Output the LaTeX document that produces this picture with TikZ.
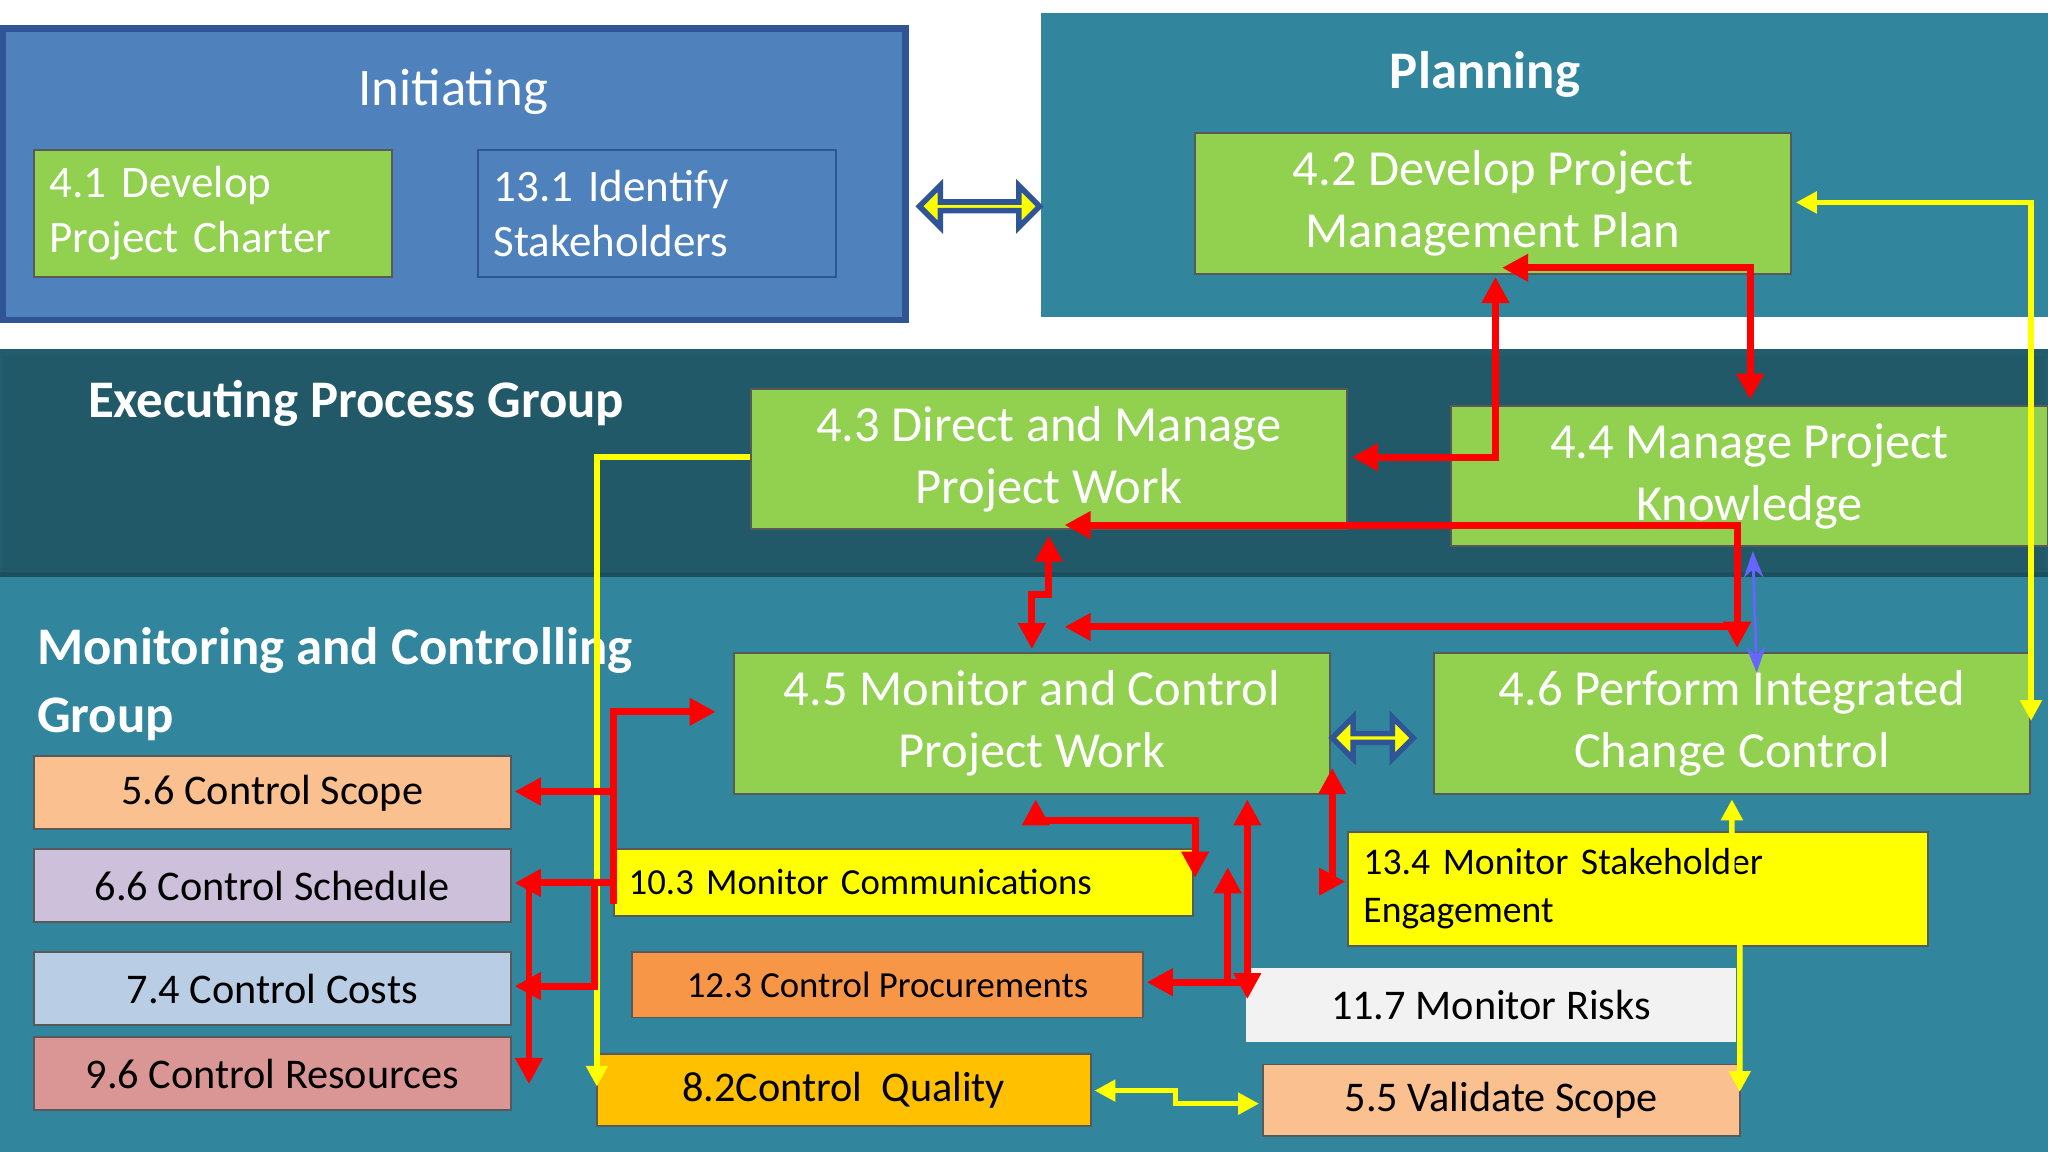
\documentclass[tikz,border=0pt]{standalone}
\usepackage{fontspec}
\setmainfont{Carlito}
\usetikzlibrary{arrows.meta,shapes.arrows}
\definecolor{initblue}{HTML}{4F81BD}
\definecolor{initborder}{HTML}{2F5597}
\definecolor{teal}{HTML}{31859C}
\definecolor{dteal}{HTML}{215968}
\definecolor{pgreen}{HTML}{92D050}
\definecolor{peach}{HTML}{FAC090}
\definecolor{lilac}{HTML}{CCC0DA}
\definecolor{lblue}{HTML}{B9CDE5}
\definecolor{rose}{HTML}{DA9694}
\definecolor{orng}{HTML}{F79646}
\definecolor{gold}{HTML}{FFC000}
\definecolor{yel}{HTML}{FFFF00}
\tikzset{
  box/.style={draw=gray!70!black, line width=0.4pt, inner sep=0pt, align=center},
  gbox/.style={box, fill=pgreen, text=white, font=\fontsize{11}{13.5}\selectfont},
  sbox/.style={box, text=black, font=\fontsize{9.2}{11}\selectfont},
  red/.style={draw=red, line width=1.5pt, -{Triangle[length=0.2cm,width=0.2cm]}},
  redd/.style={red, {Triangle[length=0.2cm,width=0.2cm]}-{Triangle[length=0.2cm,width=0.2cm]}},
  ylw/.style={draw=yel, line width=1.2pt, -{Triangle[length=0.16cm,width=0.16cm]}},
  ylwd/.style={ylw, {Triangle[length=0.16cm,width=0.16cm]}-{Triangle[length=0.16cm,width=0.16cm]}},
  fat/.style={double arrow, fill=yel, draw=initborder, line width=1.2pt, minimum width=0.32cm, double arrow head extend=0.08cm, inner sep=0pt},
  ttl/.style={text=white, font=\bfseries\fontsize{11.5}{14}\selectfont}
}
\begin{document}
\begin{tikzpicture}[x=0.01cm,y=-0.01cm]
\useasboundingbox (0,0) rectangle (1568,882);
\fill[white] (0,0) rectangle (1568,882);
% regions
\draw[fill=initblue, draw=initborder, line width=1.5pt] (2,22) rectangle (693,245);
\fill[teal] (797,10) rectangle (1568,243);
\draw[fill=dteal, draw=teal!70!black, line width=1.5pt] (0,270) rectangle (1568,440);
\fill[teal] (0,440) rectangle (1568,882);
\draw[teal!60!black, line width=1pt] (0,440) -- (1568,440);
% titles
\node[text=white, font=\fontsize{11.5}{14}\selectfont] (tinit) at (347,70) {Initiating};
\node[ttl] (tplan) at (1137,57) {Planning};
\node[ttl, anchor=west] (texec) at (55,309) {Executing Process Group};
\node[ttl, anchor=north west, align=left, font=\bfseries\fontsize{11.5}{14.8}\selectfont] (tmon) at (16,468) {Monitoring and Controlling\\Group};
% boxes
\node[gbox, minimum width=2.74cm, minimum height=0.97cm, text width=2.5cm, align=left, font=\fontsize{9.8}{12}\selectfont] (b41) at (163,163.5) {4.1 Develop\\Project Charter};
\node[box, fill=initblue, draw=initborder, text=white, minimum width=2.74cm, minimum height=0.97cm, text width=2.5cm, align=left, font=\fontsize{9.8}{12}\selectfont] (b131) at (503,163.5) {13.1 Identify\\Stakeholders};
\node[gbox, minimum width=4.56cm, minimum height=1.08cm] (b42) at (1143,156) {4.2 Develop Project\\Management Plan};
\node[gbox, minimum width=4.56cm, minimum height=1.07cm] (b43) at (803,351.5) {4.3 Direct and Manage\\Project Work};
\node[gbox, minimum width=4.57cm, minimum height=1.07cm] (b44) at (1339.5,364.5) {4.4 Manage Project\\Knowledge};
\node[gbox, minimum width=4.56cm, minimum height=1.08cm] (b45) at (790,554) {4.5 Monitor and Control\\Project Work};
\node[gbox, minimum width=4.56cm, minimum height=1.08cm] (b46) at (1326,554) {4.6 Perform Integrated\\Change Control};
\node[sbox, fill=peach, minimum width=3.65cm, minimum height=0.56cm] (b56) at (208.5,607) {5.6 Control Scope};
\node[sbox, fill=lilac, minimum width=3.65cm, minimum height=0.56cm] (b66) at (208.5,678) {6.6 Control Schedule};
\node[sbox, fill=lblue, minimum width=3.65cm, minimum height=0.56cm] (b74) at (208.5,757) {7.4 Control Costs};
\node[sbox, fill=rose, minimum width=3.65cm, minimum height=0.56cm] (b96) at (208.5,822) {9.6 Control Resources};
\node[sbox, fill=yel, minimum width=4.43cm, minimum height=0.51cm, text width=4.2cm, align=left, font=\fontsize{8}{10}\selectfont] (b103) at (691.5,675.5) {10.3 Monitor Communications};
\node[sbox, fill=orng, minimum width=3.91cm, minimum height=0.50cm, font=\fontsize{8}{10}\selectfont] (b123) at (679.5,754) {12.3 Control Procurements};
\node[sbox, fill=gold, minimum width=3.78cm, minimum height=0.55cm] (b82) at (646,834.5) {8.2Control\ \ Quality};
\node[sbox, fill=yel, minimum width=4.44cm, minimum height=0.87cm, text width=4.2cm, align=left, font=\fontsize{8.2}{10.5}\selectfont] (b134) at (1254,680.5) {13.4 Monitor Stakeholder\\Engagement};
\node[sbox, fill=gray!10, draw=gray!10, minimum width=3.73cm, minimum height=0.55cm] (b117) at (1141.5,769.5) {11.7 Monitor Risks};
\node[sbox, fill=peach, minimum width=3.65cm, minimum height=0.55cm] (b55) at (1149.5,842.5) {5.5 Validate Scope};
% fat double arrows
\node[fat, minimum height=0.92cm] (da1) at (750,158) {};
\node[fat, minimum height=0.62cm] (da2) at (1051,565) {};
% coordinates
\coordinate (c1) at (1145,350);
\coordinate (c2) at (1340,205);
\coordinate (c3) at (1330,402);
\coordinate (c4) at (470,545);
% yellow connectors
\draw[ylw] (b43.west|-0,350) -- (457,350) -- (457,832);
\draw[ylwd] (1375,155) -- (1555,155) -- (1555,552);
\draw[ylwd] (1326,612) -- (1326,710) -- (1332,720) -- (1332,836);
\draw[ylwd] (838,835) -- (900,835) -- (900,845) -- (964,845);
% red connectors
\draw[redd] (1035,350) -- (c1) -- (1145,212);
\draw[redd] (1150,205) -- (c2) -- (1340,306);
\draw[redd] (815,402) -- (c3) -- (1330,496);
\draw[red] (1330,480) -- (815,480);
\draw[redd] (803,410) -- (803,455) -- (790,455) -- (790,497);
\draw[blue!60, line width=0.6pt, {Stealth}-{Stealth}] (1342,422) -- (1345,515);
\draw[redd] (793,612) -- (793,628) -- (915,628) -- (915,672);
\draw[redd] (955,612) -- (955,765);
\draw[red] (955,752) -- (878,752);
\draw[red] (940,750) -- (940,664);
\draw[redd] (1020,588) -- (1020,675) -- (1030,675);
\draw[red] (470,692) -- (c4) -- (548,545);
\draw[red] (470,606) -- (394,606);
\draw[red] (470,676) -- (394,676);
\draw[red] (405,676) -- (405,830);
\draw[red] (455,676) -- (455,755) -- (394,755);
\end{tikzpicture}
\end{document}
